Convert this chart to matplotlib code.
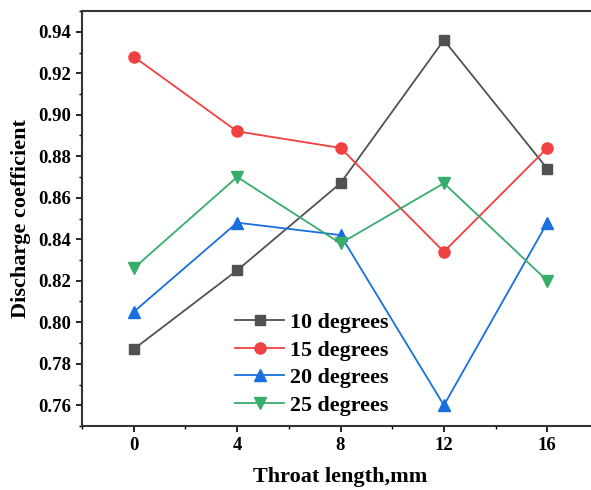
import matplotlib
matplotlib.use("Agg")
import matplotlib.pyplot as plt
from matplotlib.ticker import MultipleLocator

# throat length (mm) and discharge coefficient per divergence angle
throat = [0, 4, 8, 12, 16]
cd_10 = [0.787, 0.825, 0.867, 0.936, 0.874]
cd_15 = [0.928, 0.892, 0.884, 0.834, 0.884]
cd_20 = [0.805, 0.848, 0.842, 0.760, 0.848]
cd_25 = [0.826, 0.870, 0.838, 0.867, 0.820]
labels = ["10 degrees", "15 degrees", "20 degrees", "25 degrees"]

plt.rcParams['font.family'] = ['Liberation Serif', 'DejaVu Serif']
plt.rcParams['font.weight'] = 'bold'

fig = plt.figure(figsize=(5.91, 4.90), dpi=100)
ax = fig.add_axes([82 / 591, 1 - 426 / 490, 517 / 591, 415 / 490])

ax.plot(throat, cd_10, color='#515151', marker='s', markersize=7, lw=1.3, label=labels[0])
ax.plot(throat, cd_15, color='#F14040', marker='o', markersize=8, lw=1.3, label=labels[1])
ax.plot(throat, cd_20, color='#1A6FDF', marker='^', markersize=9, lw=1.3, label=labels[2])
ax.plot(throat, cd_25, color='#37AD6B', marker='v', markersize=9, lw=1.3, label=labels[3])

ax.set_xlim(-2, 18)
ax.set_ylim(0.75, 0.95)
ax.xaxis.set_major_locator(MultipleLocator(4))
ax.xaxis.set_minor_locator(MultipleLocator(2))
ax.yaxis.set_major_locator(MultipleLocator(0.02))
ax.yaxis.set_minor_locator(MultipleLocator(0.01))
ax.yaxis.set_major_formatter(matplotlib.ticker.FormatStrFormatter('%.2f'))

for s in ax.spines.values():
    s.set_linewidth(1.5)
    s.set_color('#333333')
ax.tick_params(which='major', direction='out', length=4.5, width=1.2, labelsize=13.5)
ax.tick_params(which='minor', direction='out', length=2.5, width=1.0)
ax.tick_params(top=False, right=False, which='both')

ax.set_xlabel("Throat length,mm", fontsize=16, fontweight='bold', labelpad=9)
ax.set_ylabel("Discharge coefficient", fontsize=16, fontweight='bold', labelpad=5)

ax.legend(loc='center', bbox_to_anchor=(0.445, 0.149), frameon=False,
          fontsize=15.8, handlelength=2.2, handletextpad=0.3, labelspacing=0.33)

fig.savefig("out.png", dpi=100)
